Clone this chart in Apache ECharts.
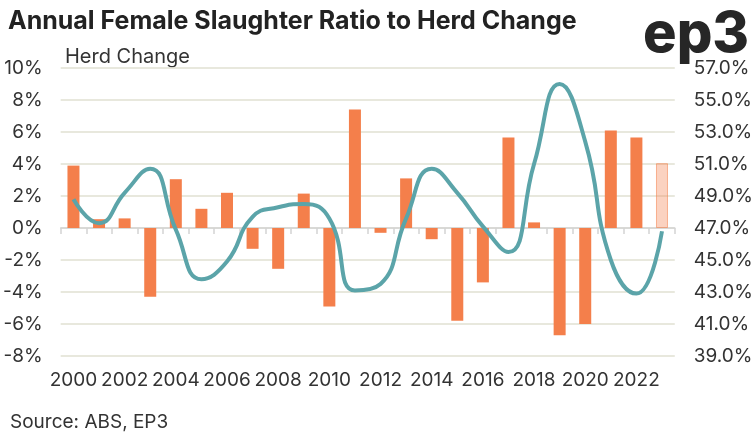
<!DOCTYPE html>
<html>
<head>
<meta charset="utf-8">
<script src="https://cdn.jsdelivr.net/npm/echarts@6/dist/echarts.min.js"></script>
<style>
  html, body { margin: 0; padding: 0; background: #fff; }
  #chart { width: 756px; height: 440px; }
</style>
</head>
<body>
<div id="chart"></div>
<script>
const years = ['2000', '2001', '2002', '2003', '2004', '2005', '2006', '2007', '2008', '2009', '2010', '2011',
  '2012', '2013', '2014', '2015', '2016', '2017', '2018', '2019', '2020', '2021', '2022', '2023'];

// herd change, % (left axis)
const herdChange = [3.9, 0.55, 0.6, -4.3, 3.05, 1.2, 2.2, -1.3, -2.55, 2.15, -4.9, 7.4,
  -0.3, 3.1, -0.7, -5.8, -3.4, 5.65, 0.35, -6.7, -6.0, 6.1, 5.65, 4.05];

// female slaughter ratio, % (right axis)
const femaleRatio = [48.8, 47.3, 49.2, 50.7, 46.9, 43.8, 44.9, 47.7, 48.3, 48.5, 47.6, 43.1,
  43.5, 47.6, 50.7, 49.2, 47.1, 45.5, 51.0, 56.0, 52.4, 45.0, 42.9, 46.8];

const rightTicks = [39, 41, 43, 45, 47, 49, 51, 53, 55, 57];

const textColor = '#333333';
const barColor = '#f47f4b';
const lineColor = '#5ba4a9';
const font = 'Inter';

const chart = echarts.init(document.getElementById('chart'));

const barData = herdChange.map((v, i) => {
  if (i === herdChange.length - 1) {
    return {
      value: v,
      itemStyle: { color: 'rgba(244,127,75,0.35)', borderColor: 'rgba(244,127,75,0.55)', borderWidth: 1 }
    };
  }
  return v;
});

const option = {
  animation: false,
  backgroundColor: '#fff',
  textStyle: { fontFamily: font },
  grid: { left: 55, right: 75, top: 68, bottom: 84 },
  graphic: [
    {
      type: 'text', left: 8, top: 9,
      style: { text: 'Annual Female Slaughter Ratio to Herd Change', fill: '#222', font: 'bold 25px Inter' }
    },
    {
      type: 'text', left: 643, top: 7,
      style: { text: 'ep3', fill: '#262626', font: '800 56px Inter' }
    },
    {
      type: 'text', left: 65, top: 47,
      style: { text: 'Herd Change', fill: textColor, font: '20px Inter' }
    },
    {
      type: 'text', left: 10, top: 413,
      style: { text: 'Source: ABS, EP3', fill: textColor, font: '19px Inter' }
    }
  ],
  xAxis: [
    {
      type: 'category',
      data: years,
      axisLine: { onZero: true, lineStyle: { color: '#d4d4d4', width: 1.5 } },
      axisTick: { show: true, interval: 0, length: 6, lineStyle: { color: '#d4d4d4', width: 1.5 } },
      axisLabel: { show: false }
    },
    {
      type: 'category',
      data: years,
      position: 'bottom',
      axisLine: { show: false, onZero: false },
      axisTick: { show: false },
      axisLabel: { interval: 1, color: textColor, fontSize: 19, margin: 15 }
    }
  ],
  yAxis: [
    {
      type: 'value',
      min: -8, max: 10, interval: 2,
      axisLine: { show: false },
      axisTick: { show: false },
      axisLabel: { color: textColor, fontSize: 19, margin: 18, formatter: v => v + '%' },
      splitLine: { lineStyle: { color: '#e0e1d2', width: 1.5 } }
    },
    {
      type: 'value',
      min: 39, max: 57,
      position: 'right',
      axisLine: { show: false },
      axisTick: { show: false },
      axisLabel: {
        color: textColor, fontSize: 19, margin: 19,
        customValues: rightTicks,
        formatter: v => v.toFixed(1) + '%'
      },
      splitLine: { show: false }
    }
  ],
  series: [
    {
      name: 'Herd Change',
      type: 'bar',
      xAxisIndex: 0,
      yAxisIndex: 0,
      data: barData,
      barWidth: 12,
      itemStyle: { color: barColor }
    },
    {
      name: 'Female Slaughter Ratio',
      type: 'line',
      xAxisIndex: 0,
      yAxisIndex: 1,
      data: femaleRatio,
      smooth: 0.5,
      symbol: 'none',
      lineStyle: { color: lineColor, width: 4 }
    }
  ]
};

chart.setOption(option);
</script>
</body>
</html>
